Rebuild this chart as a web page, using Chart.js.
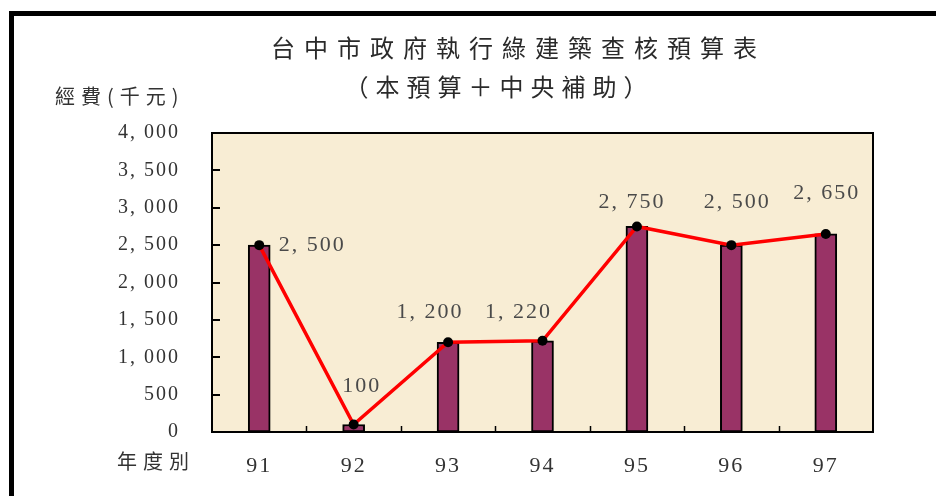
<!DOCTYPE html>
<html>
<head>
<meta charset="utf-8">
<script src="https://cdn.jsdelivr.net/npm/chart.js@4/dist/chart.umd.min.js"></script>
<style>
  html, body { margin: 0; padding: 0; background: #ffffff; }
  #wrap { width: 936px; height: 496px; position: relative; }
</style>
</head>
<body>
<div id="wrap"><canvas id="c" width="936" height="496"></canvas></div>
<script>
// ---- data ----
const categories = ['91', '92', '93', '94', '95', '96', '97'];
const budget = [2500, 100, 1200, 1220, 2750, 2500, 2650];
const yTickValues = [0, 500, 1000, 1500, 2000, 2500, 3000, 3500, 4000];
const titleText = '台中市政府執行綠建築查核預算表';
const subtitleText = '（本預算＋中央補助）';
const yAxisTitle = '經費(千元)';
const xAxisTitle = '年度別';

// ---- layout (label offsets from each point, px) ----
const labelOffsets = [[52, 0], [7, -38], [-19, -30], [-25, -29], [-6, -24], [5, -43], [0, -41]];

const fmt = v => v.toLocaleString('en-US').replace(',', ', ');
const SERIF = '"Liberation Serif", "DejaVu Serif", serif';
const CJK = '"Noto Sans CJK TC", "Noto Sans CJK SC", sans-serif';

function drawSpaced(ctx, text, x, y, spacing, align) {
  ctx.save();
  ctx.letterSpacing = spacing + 'px';
  ctx.textAlign = align || 'center';
  const dx = (align === 'left') ? 0 : (align === 'right' ? spacing : spacing / 2);
  ctx.fillText(text, x + dx, y);
  ctx.restore();
}

const decor = {
  id: 'decor',
  beforeDraw(chart) {
    const ctx = chart.ctx, a = chart.chartArea;
    ctx.save();
    ctx.fillStyle = '#ffffff';
    ctx.fillRect(0, 0, chart.width, chart.height);
    // outer frame
    ctx.strokeStyle = '#000';
    ctx.lineWidth = 5;
    ctx.strokeRect(11.5, 13.5, 1000, 1000);
    // plot background
    ctx.fillStyle = '#f8edd4';
    ctx.fillRect(a.left, a.top, a.right - a.left, a.bottom - a.top);
    // titles
    ctx.fillStyle = '#2a2a2a';
    ctx.textBaseline = 'middle';
    ctx.font = '400 24px ' + CJK;
    drawSpaced(ctx, titleText, 514, 48, 9, 'center');
    drawSpaced(ctx, subtitleText, 496, 87, 7, 'center');
    ctx.fillStyle = '#333';
    ctx.font = '400 20px ' + CJK;
    drawSpaced(ctx, yAxisTitle, 55, 96, 6, 'left');
    drawSpaced(ctx, xAxisTitle, 117, 461, 6, 'left');
    ctx.restore();
    // spacing for axis tick labels
    ctx.letterSpacing = '2px';
  },
  afterDatasetsDraw(chart) {
    const ctx = chart.ctx, a = chart.chartArea;
    const xs = chart.scales.x, ys = chart.scales.y;
    ctx.save();
    ctx.letterSpacing = '0px';
    ctx.strokeStyle = '#000';
    // inward y tick marks
    ctx.lineWidth = 2;
    yTickValues.forEach(v => {
      if (v === 0 || v === 4000) return;
      const y = Math.round(ys.getPixelForValue(v));
      ctx.beginPath();
      ctx.moveTo(a.left, y);
      ctx.lineTo(a.left + 8, y);
      ctx.stroke();
    });
    // inward x tick marks at category boundaries
    ctx.lineWidth = 1.5;
    for (let i = 0; i < categories.length - 1; i++) {
      const x = Math.round((xs.getPixelForValue(i) + xs.getPixelForValue(i + 1)) / 2) + 0.5;
      ctx.beginPath();
      ctx.moveTo(x, a.bottom);
      ctx.lineTo(x, a.bottom - 6);
      ctx.stroke();
    }
    // plot border
    ctx.lineWidth = 2;
    ctx.strokeRect(a.left, a.top, a.right - a.left, a.bottom - a.top);
    ctx.restore();
  },
  afterDraw(chart) {
    const ctx = chart.ctx;
    const meta = chart.getDatasetMeta(1);
    ctx.save();
    ctx.letterSpacing = '2px';
    ctx.font = '22px ' + SERIF;
    ctx.fillStyle = '#4a4a4a';
    ctx.textAlign = 'center';
    ctx.textBaseline = 'middle';
    meta.data.forEach((pt, i) => {
      const o = labelOffsets[i];
      ctx.fillText(fmt(budget[i]), pt.x + o[0] + 1, pt.y + o[1]);
    });
    ctx.restore();
  }
};

new Chart(document.getElementById('c'), {
  data: {
    labels: categories,
    datasets: [
      {
        type: 'bar',
        label: '經費',
        data: budget,
        backgroundColor: '#993366',
        borderColor: '#000000',
        borderWidth: 2,
        borderSkipped: false,
        barThickness: 22,
        order: 2
      },
      {
        type: 'line',
        label: '經費趨勢',
        data: budget,
        borderColor: '#ff0000',
        borderWidth: 3.5,
        pointRadius: 5,
        pointBackgroundColor: '#000000',
        pointBorderWidth: 0,
        tension: 0,
        order: 1
      }
    ]
  },
  options: {
    responsive: false,
    animation: false,
    devicePixelRatio: 1,
    layout: { padding: { top: 133, right: 63, left: 0, bottom: 0 } },
    plugins: { legend: { display: false }, tooltip: { enabled: false }, title: { display: false } },
    scales: {
      x: {
        type: 'category',
        offset: true,
        grid: { display: false, drawTicks: false },
        border: { display: false },
        ticks: { font: { family: SERIF, size: 22 }, color: '#333', padding: 21, maxRotation: 0 },
        afterFit(s) { s.height = 64; }
      },
      y: {
        min: 0,
        max: 4000,
        grid: { display: false, drawTicks: false },
        border: { display: false },
        afterBuildTicks(s) { s.ticks = yTickValues.map(v => ({ value: v })); },
        ticks: { font: { family: SERIF, size: 20 }, color: '#333', padding: 32, callback: v => fmt(v) },
        afterFit(s) { s.width = 212; }
      }
    }
  },
  plugins: [decor]
});
</script>
</body>
</html>
